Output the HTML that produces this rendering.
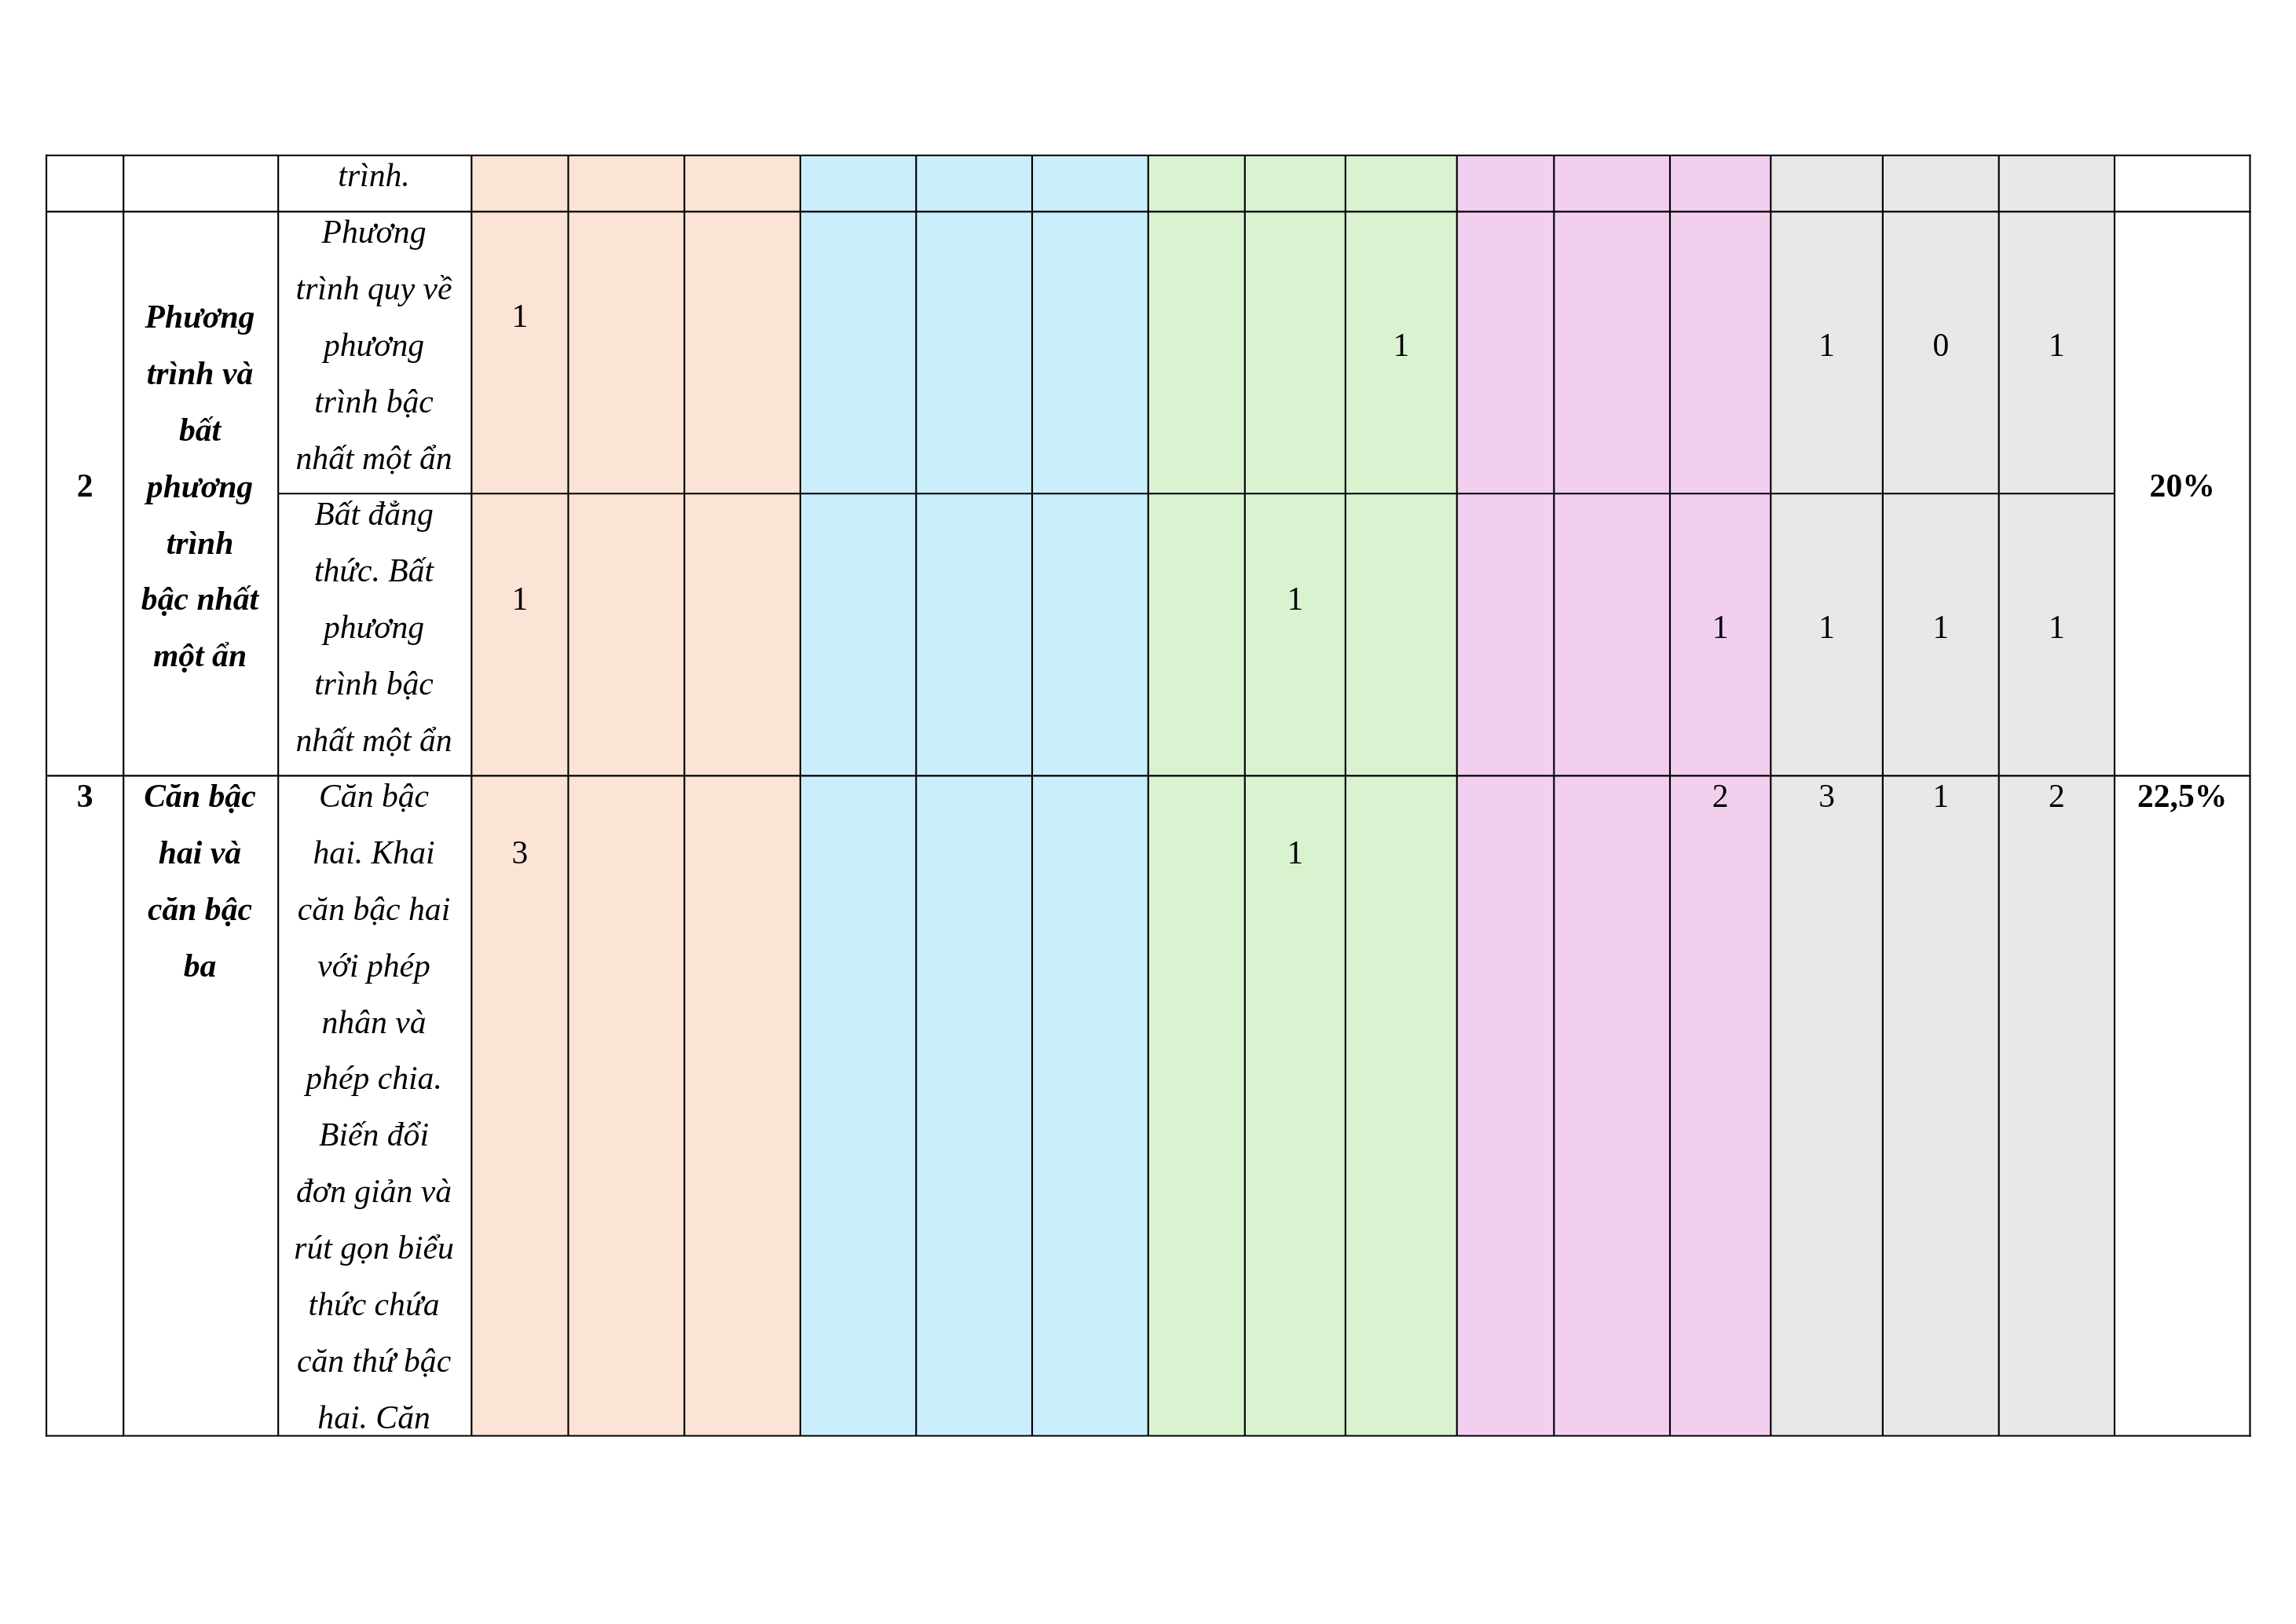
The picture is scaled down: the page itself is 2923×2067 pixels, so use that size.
<!DOCTYPE html>
<html lang="vi"><head><meta charset="utf-8"><title>Bảng</title>
<style>
html,body{margin:0;padding:0;background:#fff;}
body{width:2923px;height:2067px;position:relative;overflow:hidden;}
.g{position:absolute;left:0;top:0;}
.tx{position:absolute;left:0;top:0;width:2923px;height:2067px;will-change:transform;}
.t{position:absolute;text-align:center;white-space:nowrap;font-family:"Liberation Serif",serif;font-size:41.6667px;line-height:71.875px;color:#000;}
.i{font-style:italic;}
.b{font-weight:bold;}
.bi{font-weight:bold;font-style:italic;}
</style></head><body>
<svg class="g" width="2923" height="2067" viewBox="0 0 2923 2067"><rect x="600.30" y="197.72" width="123.15" height="1629.78" fill="#FBE3D6"/><rect x="723.45" y="197.72" width="147.83" height="1629.78" fill="#FBE3D6"/><rect x="871.28" y="197.72" width="147.62" height="1629.78" fill="#FBE3D6"/><rect x="1018.90" y="197.72" width="147.40" height="1629.78" fill="#CAEEFB"/><rect x="1166.30" y="197.72" width="147.70" height="1629.78" fill="#CAEEFB"/><rect x="1314.00" y="197.72" width="147.80" height="1629.78" fill="#CAEEFB"/><rect x="1461.80" y="197.72" width="123.00" height="1629.78" fill="#D9F2D0"/><rect x="1584.80" y="197.72" width="128.08" height="1629.78" fill="#D9F2D0"/><rect x="1712.88" y="197.72" width="141.92" height="1629.78" fill="#D9F2D0"/><rect x="1854.80" y="197.72" width="123.55" height="1629.78" fill="#F2CEEF"/><rect x="1978.35" y="197.72" width="147.65" height="1629.78" fill="#F2CEEF"/><rect x="2126.00" y="197.72" width="128.30" height="1629.78" fill="#F2CEEF"/><rect x="2254.30" y="197.72" width="142.60" height="1629.78" fill="#E8E8E8"/><rect x="2396.90" y="197.72" width="147.80" height="1629.78" fill="#E8E8E8"/><rect x="2544.70" y="197.72" width="147.30" height="1629.78" fill="#E8E8E8"/><g stroke="#000" stroke-width="2.15" fill="none"><line x1="59.05" y1="196.65" x2="59.05" y2="1828.58"/><line x1="157.22" y1="197.72" x2="157.22" y2="1827.50"/><line x1="354.2" y1="197.72" x2="354.2" y2="1827.50"/><line x1="600.3" y1="197.72" x2="600.3" y2="1827.50"/><line x1="723.45" y1="197.72" x2="723.45" y2="1827.50"/><line x1="871.28" y1="197.72" x2="871.28" y2="1827.50"/><line x1="1018.9" y1="197.72" x2="1018.9" y2="1827.50"/><line x1="1166.3" y1="197.72" x2="1166.3" y2="1827.50"/><line x1="1314.0" y1="197.72" x2="1314.0" y2="1827.50"/><line x1="1461.8" y1="197.72" x2="1461.8" y2="1827.50"/><line x1="1584.8" y1="197.72" x2="1584.8" y2="1827.50"/><line x1="1712.88" y1="197.72" x2="1712.88" y2="1827.50"/><line x1="1854.8" y1="197.72" x2="1854.8" y2="1827.50"/><line x1="1978.35" y1="197.72" x2="1978.35" y2="1827.50"/><line x1="2126.0" y1="197.72" x2="2126.0" y2="1827.50"/><line x1="2254.3" y1="197.72" x2="2254.3" y2="1827.50"/><line x1="2396.9" y1="197.72" x2="2396.9" y2="1827.50"/><line x1="2544.7" y1="197.72" x2="2544.7" y2="1827.50"/><line x1="2692.0" y1="197.72" x2="2692.0" y2="1827.50"/><line x1="2864.45" y1="196.65" x2="2864.45" y2="1828.58"/><line x1="57.97" y1="197.72" x2="2865.52" y2="197.72"/><line x1="57.97" y1="269.33" x2="2865.52" y2="269.33"/><line x1="57.97" y1="987.33" x2="2865.52" y2="987.33"/><line x1="57.97" y1="1827.5" x2="2865.52" y2="1827.5"/><line x1="354.2" y1="628.27" x2="2692.0" y2="628.27"/></g></svg>
<div class="tx">
<div class="t i" style="left:353.00px;width:246.10px;top:188.03px">trình.</div>
<div class="t b" style="left:59.05px;width:98.17px;top:583.03px">2</div>
<div class="t bi" style="left:156.02px;width:196.98px;top:368.03px">Phương<br>trình và<br>bất<br>phương<br>trình<br>bậc nhất<br>một ẩn</div>
<div class="t i" style="left:353.00px;width:246.10px;top:260.03px">Phương<br>trình quy về<br>phương<br>trình bậc<br>nhất một ẩn</div>
<div class="t i" style="left:353.00px;width:246.10px;top:619.03px">Bất đẳng<br>thức. Bất<br>phương<br>trình bậc<br>nhất một ẩn</div>
<div class="t" style="left:600.30px;width:123.15px;top:367.03px">1</div>
<div class="t" style="left:1712.88px;width:141.92px;top:404.03px">1</div>
<div class="t" style="left:2254.30px;width:142.60px;top:404.03px">1</div>
<div class="t" style="left:2396.90px;width:147.80px;top:404.03px">0</div>
<div class="t" style="left:2544.70px;width:147.30px;top:404.03px">1</div>
<div class="t" style="left:600.30px;width:123.15px;top:727.03px">1</div>
<div class="t" style="left:1584.80px;width:128.08px;top:727.03px">1</div>
<div class="t" style="left:2126.00px;width:128.30px;top:763.03px">1</div>
<div class="t" style="left:2254.30px;width:142.60px;top:763.03px">1</div>
<div class="t" style="left:2396.90px;width:147.80px;top:763.03px">1</div>
<div class="t" style="left:2544.70px;width:147.30px;top:763.03px">1</div>
<div class="t b" style="left:2692.00px;width:172.45px;top:583.03px">20%</div>
<div class="t b" style="left:59.05px;width:98.17px;top:978.03px">3</div>
<div class="t bi" style="left:156.02px;width:196.98px;top:978.03px">Căn bậc<br>hai và<br>căn bậc<br>ba</div>
<div class="t i" style="left:353.00px;width:246.10px;top:978.03px">Căn bậc<br>hai. Khai<br>căn bậc hai<br>với phép<br>nhân và<br>phép chia.<br>Biến đổi<br>đơn giản và<br>rút gọn biểu<br>thức chứa<br>căn thứ bậc<br>hai. Căn</div>
<div class="t" style="left:600.30px;width:123.15px;top:1050.03px">3</div>
<div class="t" style="left:1584.80px;width:128.08px;top:1050.03px">1</div>
<div class="t" style="left:2126.00px;width:128.30px;top:978.03px">2</div>
<div class="t" style="left:2254.30px;width:142.60px;top:978.03px">3</div>
<div class="t" style="left:2396.90px;width:147.80px;top:978.03px">1</div>
<div class="t" style="left:2544.70px;width:147.30px;top:978.03px">2</div>
<div class="t b" style="left:2692.00px;width:172.45px;top:978.03px">22,5%</div>
</div>
</body></html>
